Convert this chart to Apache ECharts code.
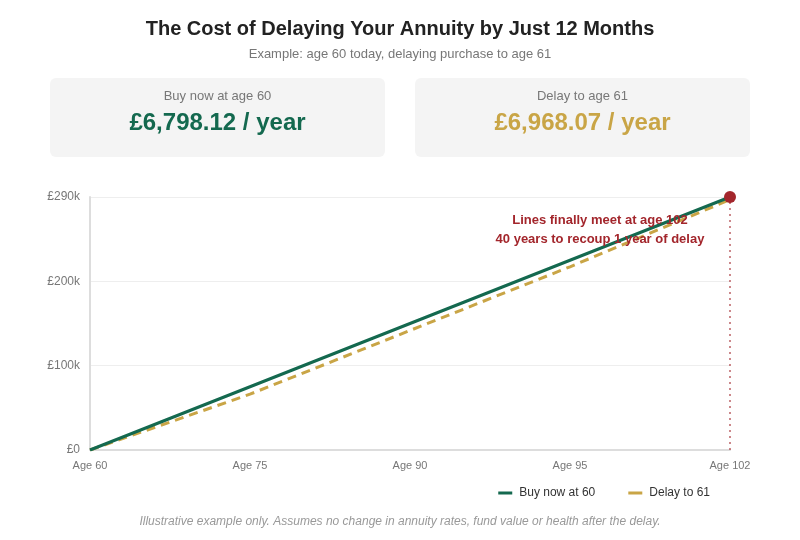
<!DOCTYPE html>
<html>
<head>
<meta charset="utf-8">
<script src="https://cdn.jsdelivr.net/npm/echarts@6/dist/echarts.min.js"></script>
<style>
  html, body { margin: 0; padding: 0; background: #fff; }
  #chart { width: 800px; height: 540px; }
</style>
</head>
<body>
<div id="chart"></div>
<script>
// chart values
const ages = ['Age 60', 'Age 75', 'Age 90', 'Age 95', 'Age 102'];
const buyNow = [0, 72500, 145000, 217500, 290000];
const delayed = [0, 64000, 137000, 210000, 287000];
const yTickLabels = ['£0', '£100k', '£200k', '£290k'];
const seriesNames = ['Buy now at 60', 'Delay to 61'];
const cardLabels = ['Buy now at age 60', 'Delay to age 61'];
const cardValues = ['£6,798.12 / year', '£6,968.07 / year'];

const GREEN = '#14694f';
const GOLD = '#c9a546';
const RED = '#a3262c';
const font = 'Liberation Sans, Arial, sans-serif';

const chart = echarts.init(document.getElementById('chart'));

function card(x, label, value, color) {
  return {
    type: 'group',
    left: x,
    top: 78,
    children: [
      { type: 'rect', shape: { x: 0, y: 0, width: 335, height: 79, r: 6 }, style: { fill: '#f4f4f4' } },
      { type: 'text', x: 167.5, y: 18, style: { text: label, fill: '#777', font: '13px ' + font, textAlign: 'center', textVerticalAlign: 'middle' } },
      { type: 'text', x: 167.5, y: 45, style: { text: value, fill: color, font: 'bold 24px ' + font, textAlign: 'center', textVerticalAlign: 'middle' } }
    ]
  };
}

chart.setOption({
  backgroundColor: '#fff',
  textStyle: { fontFamily: font },
  title: {
    text: 'The Cost of Delaying Your Annuity by Just 12 Months',
    subtext: 'Example: age 60 today, delaying purchase to age 61',
    left: 'center',
    top: 14,
    itemGap: 9,
    textStyle: { fontSize: 20, fontWeight: 'bold', color: '#222' },
    subtextStyle: { fontSize: 13, color: '#777' }
  },
  graphic: [
    card(50, cardLabels[0], cardValues[0], GREEN),
    card(415, cardLabels[1], cardValues[1], GOLD),
    {
      type: 'text', left: 'center', top: 516,
      style: {
        text: 'Illustrative example only. Assumes no change in annuity rates, fund value or health after the delay.',
        fill: '#999', font: 'italic 12px ' + font
      }
    },
    {
      type: 'text', x: 600, y: 229.5,
      style: {
        text: 'Lines finally meet at age 102\n40 years to recoup 1 year of delay',
        fill: RED, font: 'bold 13px ' + font, lineHeight: 19,
        textAlign: 'center', textVerticalAlign: 'middle'
      },
      z: 100
    }
  ],
  legend: {
    data: seriesNames,
    right: 85,
    top: 482,
    icon: 'rect',
    itemWidth: 14,
    itemHeight: 3,
    itemGap: 33,
    textStyle: { fontSize: 12, color: '#333', padding: [0, 0, 0, 2] }
  },
  grid: { left: 90, right: 70, top: 197, bottom: 90 },
  xAxis: {
    type: 'category',
    data: ages,
    boundaryGap: false,
    axisLine: { lineStyle: { color: '#ddd', width: 2 } },
    axisTick: { show: false },
    axisLabel: { color: '#777', fontSize: 11, margin: 10 }
  },
  yAxis: {
    type: 'value',
    min: 0,
    max: 290000,
    interval: 290000 / 3,
    axisLine: { show: true, lineStyle: { color: '#ddd', width: 2 } },
    axisTick: { show: false },
    axisLabel: {
      color: '#777', fontSize: 12, margin: 10,
      formatter: (v, i) => yTickLabels[i]
    },
    splitLine: { lineStyle: { color: '#eee' } }
  },
  series: [
    {
      name: seriesNames[0],
      type: 'line',
      data: buyNow,
      symbol: 'none',
      color: GREEN,
      lineStyle: { width: 3, color: GREEN },
      z: 3,
      markLine: {
        silent: true,
        symbol: 'none',
        label: { show: false },
        lineStyle: { color: 'rgba(163,38,44,0.55)', type: [2, 4], width: 2 },
        data: [{ xAxis: ages[ages.length - 1] }]
      },
      markPoint: {
        silent: true,
        symbol: 'circle',
        symbolSize: 12,
        itemStyle: { color: RED },
        label: { show: false },
        data: [{ coord: [ages[ages.length - 1], buyNow[buyNow.length - 1]] }]
      }
    },
    {
      name: seriesNames[1],
      type: 'line',
      data: delayed,
      symbol: 'none',
      color: GOLD,
      lineStyle: { width: 3, color: GOLD, type: [9, 6] },
      z: 2
    }
  ]
});
</script>
</body>
</html>
